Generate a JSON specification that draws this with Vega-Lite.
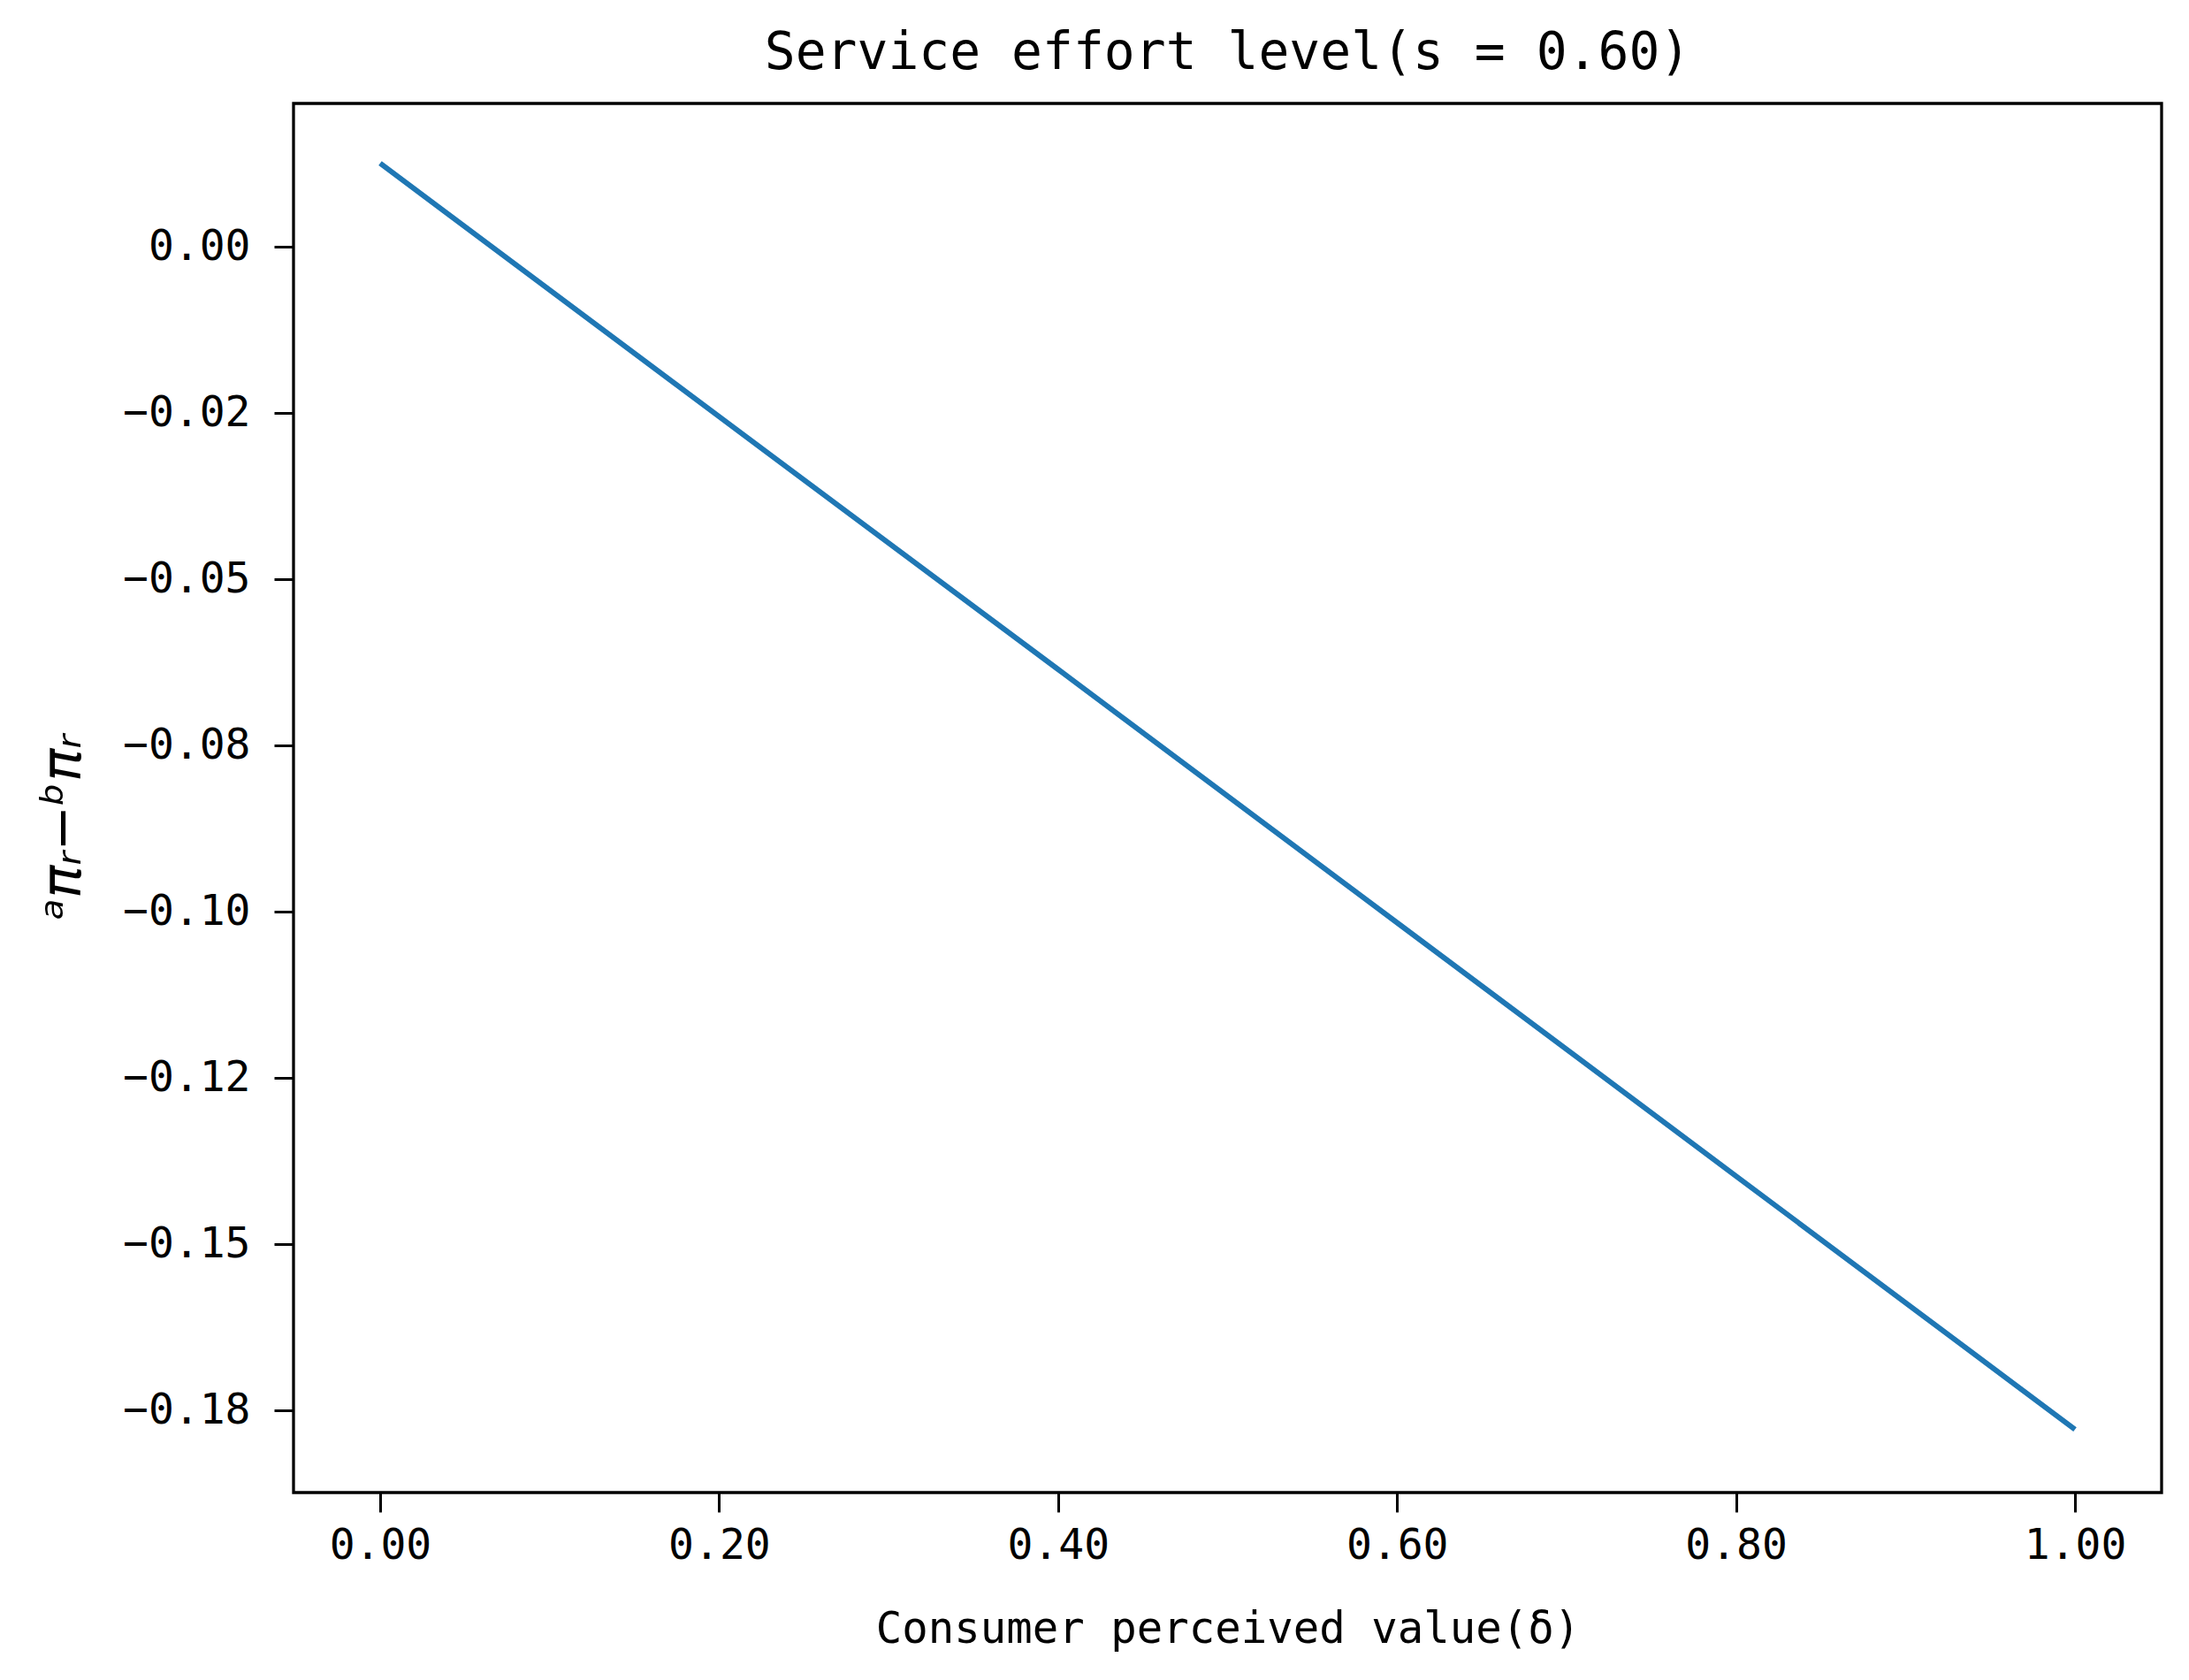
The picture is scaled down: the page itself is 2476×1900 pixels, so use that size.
{
  "$schema": "https://vega.github.io/schema/vega-lite/v6.json",
  "autosize": "none",
  "width": 2113,
  "height": 1571,
  "padding": {"left": 332, "top": 117, "right": 31, "bottom": 212},
  "background": "white",
  "title": {
    "text": "Service effort level(s = 0.60)",
    "font": "DejaVu Sans Mono",
    "fontSize": 58,
    "fontWeight": "normal",
    "color": "black",
    "anchor": "middle",
    "baseline": "alphabetic",
    "offset": 40,
    "dy": 59
  },
  "data": {
    "values": [
      {"delta": 0.0, "diff": 0.0126},
      {"delta": 0.2, "diff": -0.0255},
      {"delta": 0.4, "diff": -0.0635},
      {"delta": 0.6, "diff": -0.1016},
      {"delta": 0.8, "diff": -0.1397},
      {"delta": 1.0, "diff": -0.1778}
    ]
  },
  "mark": {"type": "line", "color": "#1f77b4", "strokeWidth": 6, "clip": true},
  "encoding": {
    "x": {
      "field": "delta",
      "type": "quantitative",
      "scale": {"domain": [-0.0511, 1.0511], "nice": false, "zero": false},
      "axis": {
        "title": "Consumer perceived value(δ)",
        "values": [0, 0.2, 0.4, 0.6, 0.8, 1.0],
        "format": ".2f",
        "grid": false,
        "domain": false,
        "tickColor": "black",
        "tickWidth": 3,
        "tickSize": 22,
        "labelFont": "DejaVu Sans Mono",
        "labelFontSize": 48,
        "labelColor": "black",
        "labelPadding": 14,
        "labelFlush": false,
        "titleFont": "DejaVu Sans Mono",
        "titleFontSize": 49,
        "titleFontWeight": "normal",
        "titleColor": "black",
        "titleBaseline": "alphabetic",
        "titleY": 169
      }
    },
    "y": {
      "field": "diff",
      "type": "quantitative",
      "scale": {"domain": [-0.1873, 0.0216], "nice": false, "zero": false},
      "axis": {
        "title": "ᵃπᵣ−ᵇπᵣ",
        "values": [0, -0.025, -0.05, -0.075, -0.1, -0.125, -0.15, -0.175],
        "labelExpr": "['0.00','−0.02','−0.05','−0.08','−0.10','−0.12','−0.15','−0.18'][round(-datum.value*40)]",
        "grid": false,
        "domain": false,
        "tickColor": "black",
        "tickWidth": 3,
        "tickSize": 22,
        "labelFont": "DejaVu Sans Mono",
        "labelFontSize": 48,
        "labelColor": "black",
        "labelPadding": 27,
        "labelFlush": false,
        "titleFont": "DejaVu Sans",
        "titleFontStyle": "italic",
        "titleFontSize": 62,
        "titleFontWeight": "normal",
        "titleColor": "black",
        "titleAngle": -90,
        "titleAlign": "center",
        "titleBaseline": "middle",
        "titleX": -261,
        "titleY": 818
      }
    }
  },
  "config": {
    "view": {"stroke": "black", "strokeWidth": 3.3}
  }
}
